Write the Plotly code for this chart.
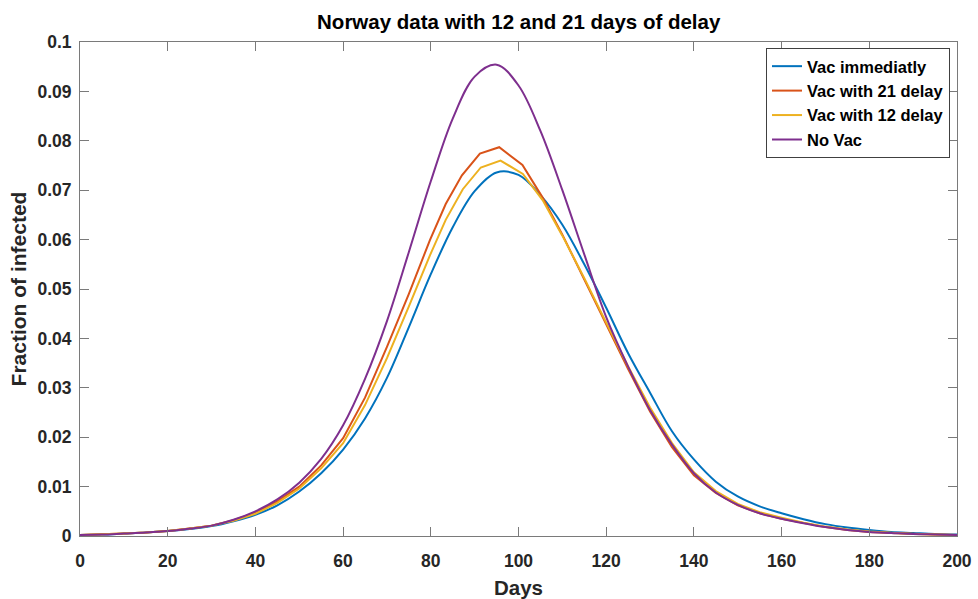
import plotly.graph_objects as go

# ---- data ----
days_grid = [0, 5, 10, 15, 20, 25, 30, 35, 40, 45, 50, 55, 60, 65, 70, 75, 80, 85, 90, 95,
             100, 105, 110, 115, 120, 125, 130, 135, 140, 145, 150, 155, 160, 165, 170, 175,
             180, 185, 190, 195, 200]

vac_immediately = [0.0002, 0.0003, 0.0005, 0.0007, 0.0010, 0.0014, 0.0020, 0.0030, 0.0043,
                   0.0062, 0.0090, 0.0127, 0.0175, 0.0238, 0.0320, 0.0423, 0.0530, 0.0625,
                   0.0698, 0.0736, 0.0731, 0.0690, 0.0630, 0.0550, 0.0462, 0.0370,
                   0.0290, 0.0212, 0.0155, 0.0110, 0.0080, 0.0060, 0.0046, 0.0034, 0.0024,
                   0.0017, 0.0012, 0.0008, 0.0006, 0.0004, 0.0003]

no_vac = [0.0002, 0.0003, 0.0005, 0.0007, 0.0010, 0.0015, 0.0021, 0.0033, 0.0050, 0.0074,
          0.0108, 0.0156, 0.0224, 0.0318, 0.0435, 0.0575, 0.0718, 0.0845, 0.0930, 0.0954,
          0.0912, 0.0820, 0.0700, 0.0570, 0.0443, 0.0343, 0.0255, 0.0185, 0.0127,
          0.0088, 0.0063, 0.0046, 0.0035, 0.0026, 0.0018, 0.0012, 0.0008, 0.0006, 0.0004,
          0.0003, 0.0002]

days_21 = [0, 5, 10, 15, 20, 25, 30, 35, 40, 45, 50, 55, 60, 65, 70, 75, 79.8, 83.4, 87.1,
           91.2, 95.6, 100.9, 105.5, 110, 115, 120, 125, 130, 135, 140, 145, 150, 155, 160,
           165, 170, 175, 180, 185, 190, 195, 200]
vac_21_delay = [0.0002, 0.0003, 0.0005, 0.0007, 0.0010, 0.0015, 0.0021, 0.0032, 0.0047,
                0.0070, 0.0100, 0.0143, 0.0198, 0.0280, 0.0383, 0.0490, 0.0599, 0.0672,
                0.0730, 0.0774, 0.0787, 0.0751, 0.0685, 0.0610, 0.0520, 0.0428, 0.0338,
                0.0252, 0.0180, 0.0123, 0.0087, 0.0062, 0.0046, 0.0035, 0.0026, 0.0018,
                0.0012, 0.0008, 0.0006, 0.0004, 0.0003, 0.0002]

days_12 = [0, 5, 10, 15, 20, 25, 30, 35, 40, 45, 50, 55, 60, 65, 70, 75, 79.8, 83.4, 87.3,
           91.4, 95.9, 101.0, 105.5, 110, 115, 120, 125, 130, 135, 140, 145, 150, 155, 160,
           165, 170, 175, 180, 185, 190, 195, 200]
vac_12_delay = [0.0002, 0.0003, 0.0005, 0.0007, 0.0010, 0.0015, 0.0021, 0.0031, 0.0045,
                0.0067, 0.0096, 0.0137, 0.0188, 0.0265, 0.0360, 0.0465, 0.0568, 0.0640,
                0.0702, 0.0746, 0.0760, 0.0733, 0.0680, 0.0608, 0.0522, 0.0432, 0.0343,
                0.0260, 0.0188, 0.0129, 0.0091, 0.0065, 0.0048, 0.0037, 0.0027, 0.0019,
                0.0013, 0.0009, 0.0006, 0.0004, 0.0003, 0.0002]

x_ticks = [0, 20, 40, 60, 80, 100, 120, 140, 160, 180, 200]
y_ticks = [0, 0.01, 0.02, 0.03, 0.04, 0.05, 0.06, 0.07, 0.08, 0.09, 0.1]
y_tick_text = ["0", "0.01", "0.02", "0.03", "0.04", "0.05", "0.06", "0.07", "0.08", "0.09", "0.1"]

FONT = "Liberation Sans, Arial, sans-serif"

fig = go.Figure()
fig.add_trace(go.Scatter(x=days_grid, y=vac_immediately, mode="lines", name="Vac immediatly",
                         line=dict(color="#0072BD", width=2, shape="spline", smoothing=1.0)))
fig.add_trace(go.Scatter(x=days_21, y=vac_21_delay, mode="lines", name="Vac with 21 delay",
                         line=dict(color="#D95319", width=2)))
fig.add_trace(go.Scatter(x=days_12, y=vac_12_delay, mode="lines", name="Vac with 12 delay",
                         line=dict(color="#EDB120", width=2)))
fig.add_trace(go.Scatter(x=days_grid, y=no_vac, mode="lines", name="No Vac",
                         line=dict(color="#7E2F8E", width=2, shape="spline", smoothing=1.0)))

axis_common = dict(
    showline=True, linecolor="#7a7a7a", linewidth=1, mirror="ticks",
    ticks="inside", ticklen=9, tickcolor="#7a7a7a", tickwidth=1,
    showgrid=False, zeroline=False, automargin=False,
    tickfont=dict(family=FONT, size=17.5, color="#262626", weight="bold"),
)

fig.update_layout(
    width=978, height=599,
    margin=dict(l=80, r=21, t=42, b=63),
    paper_bgcolor="white", plot_bgcolor="white",
    title=dict(text="<b>Norway data with 12 and 21 days of delay</b>", x=0.5304, xanchor="center",
               y=0.963, yanchor="middle",
               font=dict(family=FONT, size=20.5, color="#000000")),
    xaxis=dict(range=[0, 200], tickvals=x_ticks, ticklabelstandoff=9,
               title=dict(text="<b>Days</b>", standoff=13,
                          font=dict(family=FONT, size=20.5, color="#262626")),
               **axis_common),
    yaxis=dict(range=[0, 0.1], tickvals=y_ticks, ticktext=y_tick_text, ticklabelstandoff=4,
               title=dict(text="<b>Fraction of infected</b>", standoff=5,
                          font=dict(family=FONT, size=21, color="#262626")),
               **axis_common),
    legend=dict(x=0.992, xanchor="right", y=0.988, yanchor="top",
                bgcolor="white", bordercolor="#404040", borderwidth=1,
                font=dict(family=FONT, size=16.5, color="#000000", weight="bold"),
                tracegroupgap=0, itemwidth=30),
    showlegend=True,
)

fig.write_html("out.html")
